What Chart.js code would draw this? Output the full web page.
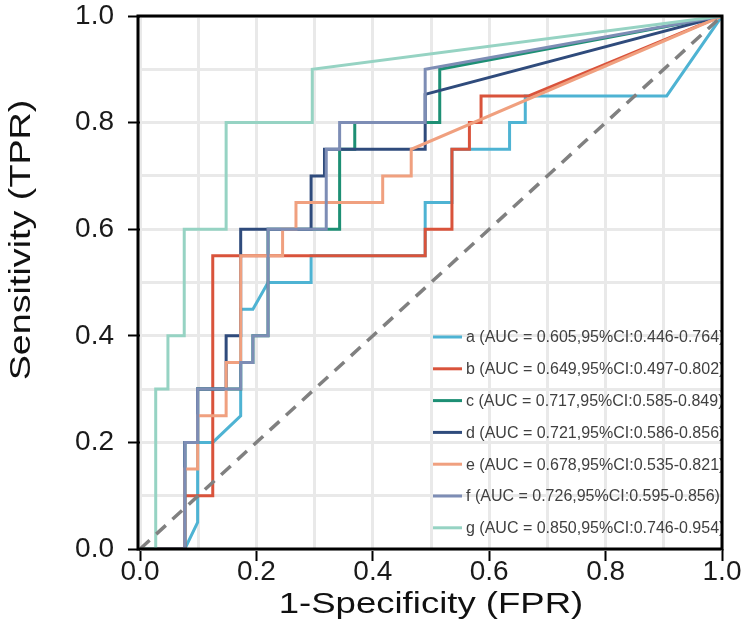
<!DOCTYPE html>
<html>
<head>
<meta charset="utf-8">
<script src="https://cdn.jsdelivr.net/npm/chart.js@4.4.1/dist/chart.umd.min.js"></script>
<style>
  html, body { margin: 0; padding: 0; background: #fff; }
  #wrap { width: 750px; height: 636px; }
</style>
</head>
<body>
<div id="wrap"><canvas id="roc" width="750" height="636"></canvas></div>
<script>
const FONT = '"Liberation Sans", Arial, Helvetica, sans-serif';

// curve names as shown in the legend
const labels = [
    'a (AUC = 0.605,95%CI:0.446-0.764)',
    'b (AUC = 0.649,95%CI:0.497-0.802)',
    'c (AUC = 0.717,95%CI:0.585-0.849)',
    'd (AUC = 0.721,95%CI:0.586-0.856)',
    'e (AUC = 0.678,95%CI:0.535-0.821)',
    'f (AUC = 0.726,95%CI:0.595-0.856)',
    'g (AUC = 0.850,95%CI:0.746-0.954)'
];
const colors = ['#4eb3d3', '#d9533b', '#1d8f74', '#2f4b7c', '#f0a07f', '#7d8db5', '#96d3c3'];

// ROC points (1-specificity, sensitivity)
const aFpr = [0, 0.077, 0.099, 0.099, 0.125, 0.173, 0.173, 0.194, 0.22, 0.294, 0.294, 0.49, 0.49, 0.536, 0.536, 0.635, 0.635, 0.662, 0.662, 0.905, 1];
const aTpr = [0, 0, 0.05, 0.2, 0.2, 0.25, 0.45, 0.45, 0.5, 0.5, 0.55, 0.55, 0.65, 0.65, 0.75, 0.75, 0.8, 0.8, 0.85, 0.85, 1];

const bFpr = [0, 0.077, 0.077, 0.125, 0.125, 0.49, 0.49, 0.536, 0.536, 0.566, 0.566, 0.586, 0.586, 0.668, 1];
const bTpr = [0, 0, 0.1, 0.1, 0.55, 0.55, 0.6, 0.6, 0.75, 0.75, 0.8, 0.8, 0.85, 0.85, 1];

const cFpr = [0, 0.077, 0.077, 0.099, 0.099, 0.173, 0.173, 0.194, 0.194, 0.22, 0.22, 0.343, 0.343, 0.369, 0.369, 0.515, 0.515, 1];
const cTpr = [0, 0, 0.2, 0.2, 0.3, 0.3, 0.35, 0.35, 0.4, 0.4, 0.6, 0.6, 0.75, 0.75, 0.8, 0.8, 0.9, 1];

const dFpr = [0, 0.077, 0.077, 0.099, 0.099, 0.148, 0.148, 0.173, 0.173, 0.294, 0.294, 0.317, 0.317, 0.49, 0.49, 1];
const dTpr = [0, 0, 0.2, 0.2, 0.3, 0.3, 0.4, 0.4, 0.6, 0.6, 0.7, 0.7, 0.75, 0.75, 0.853, 1];

const eFpr = [0, 0.077, 0.077, 0.099, 0.099, 0.148, 0.148, 0.173, 0.173, 0.245, 0.245, 0.268, 0.268, 0.417, 0.417, 0.466, 0.466, 1];
const eTpr = [0, 0, 0.15, 0.15, 0.25, 0.25, 0.35, 0.35, 0.55, 0.55, 0.6, 0.6, 0.65, 0.65, 0.7, 0.7, 0.75, 1];

const fFpr = [0, 0.077, 0.077, 0.099, 0.099, 0.173, 0.173, 0.194, 0.194, 0.22, 0.22, 0.32, 0.32, 0.343, 0.343, 0.49, 0.49, 1];
const fTpr = [0, 0, 0.2, 0.2, 0.3, 0.3, 0.35, 0.35, 0.4, 0.4, 0.6, 0.6, 0.75, 0.75, 0.8, 0.8, 0.9, 1];

const gFpr = [0, 0.027, 0.027, 0.048, 0.048, 0.076, 0.076, 0.148, 0.148, 0.296, 0.296, 1];
const gTpr = [0, 0, 0.3, 0.3, 0.4, 0.4, 0.6, 0.6, 0.8, 0.8, 0.9, 1];

const curves = [[aFpr, aTpr], [bFpr, bTpr], [cFpr, cTpr], [dFpr, dTpr], [eFpr, eTpr], [fFpr, fTpr], [gFpr, gTpr]];

// chance line
const refX = [0, 1];
const refY = [0, 1];

const tickValues = [0, 0.2, 0.4, 0.6, 0.8, 1.0];
const xTitle = '1-Specificity (FPR)';
const yTitle = 'Sensitivity (TPR)';

const toPoints = (xs, ys) => xs.map((x, i) => ({x: x, y: ys[i]}));

const datasets = curves.map((c, i) => ({
    label: labels[i],
    data: toPoints(c[0], c[1]),
    borderColor: colors[i],
    borderWidth: 3,
    pointRadius: 0,
    tension: 0,
    showLine: true,
    fill: false,
    // first dataset is painted last in chart.js, so flip the order
    order: labels.length - i
}));

datasets.push({
    label: 'ref',
    data: toPoints(refX, refY),
    borderColor: '#808080',
    borderWidth: 3.5,
    borderDash: [13, 9],
    pointRadius: 0,
    showLine: true,
    fill: false,
    order: 0
});

// legend inside the plot, bottom right
const innerLegend = {
    id: 'innerLegend',
    afterDatasetsDraw(chart) {
        const {ctx, chartArea} = chart;
        const x0 = chartArea.right - 289;
        const y0 = chartArea.bottom - 212;
        ctx.save();
        ctx.beginPath();
        ctx.rect(chartArea.left, chartArea.top, chartArea.right - chartArea.left, chartArea.bottom - chartArea.top);
        ctx.clip();
        ctx.font = '16px ' + FONT;
        ctx.textBaseline = 'middle';
        ctx.textAlign = 'left';
        labels.forEach((lab, i) => {
            const y = y0 + i * 31.8;
            ctx.strokeStyle = colors[i];
            ctx.lineWidth = 3;
            ctx.beginPath();
            ctx.moveTo(x0, y);
            ctx.lineTo(x0 + 29, y);
            ctx.stroke();
            ctx.fillStyle = '#404040';
            ctx.fillText(lab, x0 + 33, y + 1);
        });
        ctx.restore();
    }
};

// black frame and the two axis titles
const frameAndTitles = {
    id: 'frameAndTitles',
    afterDraw(chart) {
        const {ctx, chartArea: a} = chart;
        ctx.save();
        ctx.strokeStyle = '#000';
        ctx.lineWidth = 3;
        ctx.strokeRect(a.left - 2, a.top, a.right - a.left + 2, a.bottom - a.top);

        ctx.fillStyle = '#111';
        ctx.font = '29px ' + FONT;
        ctx.textAlign = 'center';
        ctx.textBaseline = 'middle';

        ctx.save();
        ctx.translate((a.left + a.right) / 2, 605);
        ctx.scale(1.26, 1);
        ctx.fillText(xTitle, 0, 0);
        ctx.restore();

        ctx.save();
        ctx.translate(22, 240);
        ctx.rotate(-Math.PI / 2);
        ctx.scale(1.3, 1);
        ctx.fillText(yTitle, 0, 0);
        ctx.restore();

        ctx.restore();
    }
};

const axisTicks = {
    stepSize: 0.1,
    autoSkip: false,
    maxRotation: 0,
    color: '#1a1a1a',
    font: {family: FONT, size: 28},
    callback: (v) => tickValues.some(t => Math.abs(t - v) < 1e-6) ? v.toFixed(1) : ''
};

const axisGrid = {
    color: '#e9e9e9',
    lineWidth: 3,
    tickLength: 12,
    tickWidth: 2,
    tickColor: (ctx) => (ctx.tick && tickValues.some(t => Math.abs(t - ctx.tick.value) < 1e-6)) ? '#000' : 'rgba(0,0,0,0)'
};

new Chart(document.getElementById('roc'), {
    type: 'scatter',
    data: {datasets: datasets},
    options: {
        responsive: false,
        devicePixelRatio: 1,
        animation: false,
        layout: {padding: {top: 16, right: 28, left: 0, bottom: 0}},
        plugins: {
            legend: {display: false},
            tooltip: {enabled: false}
        },
        scales: {
            x: {
                type: 'linear',
                min: 0,
                max: 1,
                ticks: Object.assign({}, axisTicks, {padding: -6}),
                grid: axisGrid,
                border: {display: false},
                afterFit: (s) => {
                    s.height = 87;
                    s.paddingLeft = 0;
                    s.paddingRight = 0;
                }
            },
            y: {
                type: 'linear',
                min: 0,
                max: 1,
                ticks: Object.assign({}, axisTicks, {padding: 14}),
                grid: axisGrid,
                border: {display: false},
                afterFit: (s) => {
                    // the tick labels may poke out; the layout padding covers it
                    s.width = 140;
                    s.paddingTop = 0;
                    s.paddingBottom = 0;
                }
            }
        }
    },
    plugins: [innerLegend, frameAndTitles]
});
</script>
</body>
</html>
